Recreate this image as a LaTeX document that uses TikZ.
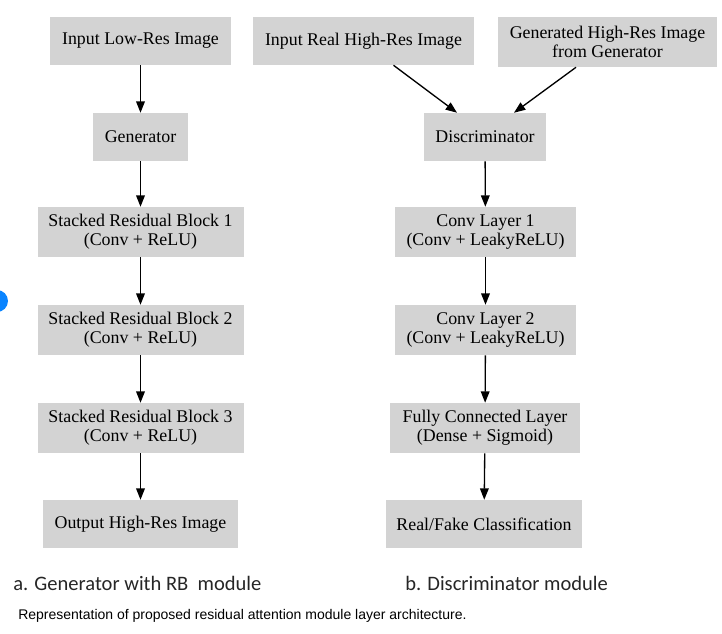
\documentclass[tikz,border=0pt]{standalone}
\usepackage{fontspec}
\setmainfont{Liberation Serif}
\newfontfamily\capfont{Carlito}
\newfontfamily\notefont{Liberation Sans}
\usetikzlibrary{arrows.meta}
\definecolor{boxgray}{HTML}{D3D3D3}
\definecolor{dotblue}{RGB}{10,132,255}
\tikzset{
  blk/.style={fill=boxgray,inner sep=0pt,minimum height=36pt,align=center,
    font=\fontsize{13.4}{14.2}\selectfont},
  blk2/.style={blk,minimum height=37.5pt},
  flow/.style={line width=1pt,-{Triangle[length=8.5pt,width=6.5pt]}},
  caplab/.style={anchor=base west,inner sep=0pt,font=\capfont\fontsize{15.4}{17}\selectfont,text=black!85},
}
\begin{document}
\begin{tikzpicture}[x=0.75pt,y=-0.75pt,line cap=butt,line join=miter]
  \useasboundingbox (0,0) rectangle (722,633);
  \fill[dotblue] (-3,301) circle (11);
  % generator side
  \node[blk,minimum width=135.75pt] (lowres) at (140.5,41) {Input Low-Res Image};
  \node[blk,minimum width=71.25pt] (gen) at (140.5,137) {Generator};
  \node[blk2,minimum width=154.5pt] (rb1) at (140.5,232) {Stacked Residual Block 1\\(Conv + ReLU)};
  \node[blk2,minimum width=154.5pt] (rb2) at (140.5,330) {Stacked Residual Block 2\\(Conv + ReLU)};
  \node[blk2,minimum width=154.5pt] (rb3) at (140.5,428) {Stacked Residual Block 3\\(Conv + ReLU)};
  \node[blk,minimum width=146.25pt] (hires) at (140.5,524) {Output High-Res Image};
  % discriminator side
  \node[blk,minimum width=165.75pt] (realin) at (363.5,41) {Input Real High-Res Image};
  \node[blk2,minimum width=164.25pt] (fakein) at (607.5,42) {Generated High-Res Image\\from Generator};
  \node[blk,minimum width=91.5pt] (disc) at (485,137) {Discriminator};
  \node[blk2,minimum width=135.75pt] (conv1) at (485.5,232) {Conv Layer 1\\(Conv + LeakyReLU)};
  \node[blk2,minimum width=135.75pt] (conv2) at (485.5,330) {Conv Layer 2\\(Conv + LeakyReLU)};
  \node[blk2,minimum width=142.5pt] (fc) at (485,428) {Fully Connected Layer\\(Dense + Sigmoid)};
  \node[blk,minimum width=147pt] (cls) at (484,524) {Real/Fake Classification};
  % connectors
  \draw[flow] (lowres) -- (gen);
  \draw[flow] (gen) -- (rb1);
  \draw[flow] (rb1) -- (rb2);
  \draw[flow] (rb2) -- (rb3);
  \draw[flow] (rb3) -- (hires);
  \draw[flow] ([xshift=22.5pt]realin.south) -- ([xshift=-21pt]disc.north);
  \draw[flow] ([xshift=-23.6pt]fakein.south) -- ([xshift=21.75pt]disc.north);
  \draw[flow] (disc) -- (conv1);
  \draw[flow] (conv1) -- (conv2);
  \draw[flow] (conv2) -- (fc);
  \draw[flow] (fc) -- (cls);
  % captions
  \node[caplab] (capa) at (13,590) {a. Generator with RB\ \ module};
  \node[caplab] (capb) at (405,590) {b. Discriminator module};
  \node[anchor=base west,inner sep=0pt,font=\notefont\fontsize{10.5}{12}\selectfont] (note) at (18,619)
    {Representation of proposed residual attention module layer architecture.};
\end{tikzpicture}
\end{document}
